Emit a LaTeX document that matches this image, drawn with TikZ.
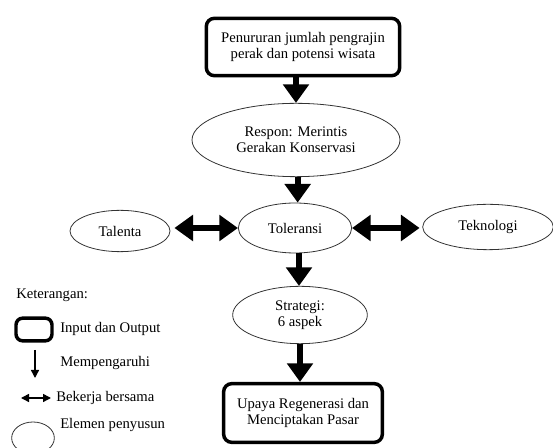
\documentclass[tikz,border=0pt]{standalone}
\usepackage{fontspec}
\setmainfont{Liberation Serif}
\usetikzlibrary{shapes.geometric,arrows.meta}
\begin{document}
\begin{tikzpicture}[x=0.75pt,y=-0.75pt,
  iobox/.style={draw=black,line width=2.6pt,rounded corners=6pt,inner sep=0pt,align=center,font=\fontsize{11}{12}\selectfont},
  elem/.style={ellipse,draw=black!80,line width=0.6pt,inner sep=0pt,align=center,font=\fontsize{11}{12}\selectfont},
  bigarrow/.style={line width=4.5pt,-{Triangle[width=19pt,length=14pt]}},
  bigdouble/.style={line width=4.5pt,{Triangle[width=19pt,length=14pt]}-{Triangle[width=19pt,length=14pt]}},
  legtext/.style={anchor=west,inner sep=0pt,font=\fontsize{11}{12}\selectfont}]
\useasboundingbox (0,0) rectangle (553,448);
% main nodes
\node[iobox,minimum width=145pt,minimum height=43pt] (top) at (303,47) {Penururan jumlah pengrajin\\perak dan potensi wisata};
\node[elem,minimum width=156pt,minimum height=55pt] (resp) at (296,140) {Respon: Merintis\\Gerakan Konservasi};
\node[elem,minimum width=85pt,minimum height=37.5pt] (tol) at (295,228) {Toleransi};
\node[elem,minimum width=75pt,minimum height=31pt] (tal) at (120,231) {Talenta};
\node[elem,minimum width=98pt,minimum height=34pt] (tek) at (488,227) {Teknologi};
\node[elem,minimum width=101pt,minimum height=43pt] (str) at (300,315) {Strategi:\\6 aspek};
\node[iobox,minimum width=119pt,minimum height=44pt] (bot) at (303,413) {Upaya Regenerasi dan\\Menciptakan Pasar};
% connectors
\draw[bigarrow] (resp.north |- top.south) -- (resp.north);
\draw[bigarrow] ([xshift=2pt]tol.north |- resp.south) -- ([xshift=2pt]tol.north);
\draw[bigarrow] ([xshift=3pt]tol.south) -- ([xshift=3pt]tol.south |- str.north);
\draw[bigarrow] (str.south) -- (str.south |- bot.north);
\draw[bigdouble] ([xshift=3pt]tal.east |- tol.west) -- (tol.west);
\draw[bigdouble] (tol.east) -- ([xshift=-2pt]tek.west |- tol.east);
% legend
\node[legtext] (ket) at (16,295) {Keterangan:};
\node[draw=black,line width=2.6pt,rounded corners=5pt,minimum width=27pt,minimum height=17pt,inner sep=0pt] (lbox) at (34,329.5) {};
\node[legtext] (lbt) at (60,329) {Input dan Output};
\coordinate (la1) at (35,350);
\coordinate (la2) at (35,378);
\draw[line width=1.1pt,-{Triangle[width=6pt,length=6pt]}] (la1) -- (la2);
\node[legtext] (lat) at (60,363) {Mempengaruhi};
\coordinate (ld1) at (21,398);
\coordinate (ld2) at (51,398);
\draw[line width=1.1pt,{Triangle[width=6pt,length=6pt]}-{Triangle[width=6pt,length=6pt]}] (ld1) -- (ld2);
\node[legtext] (ldt) at (56,398) {Bekerja bersama};
\node[ellipse,draw=black!80,line width=0.6pt,minimum width=32pt,minimum height=24pt,inner sep=0pt] (lell) at (33,438) {};
\node[legtext] (let) at (60,425) {Elemen penyusun};
\end{tikzpicture}
\end{document}
